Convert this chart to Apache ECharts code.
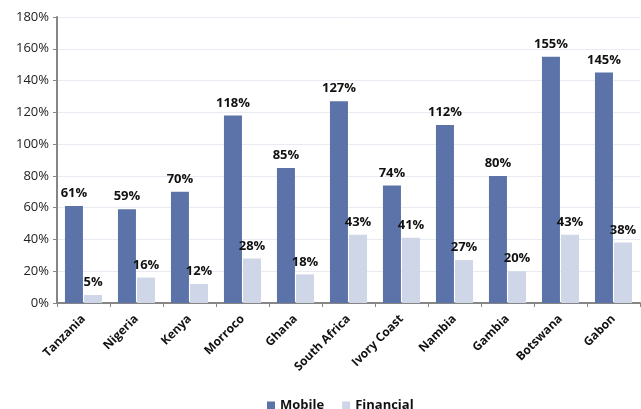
<!DOCTYPE html>
<html>
<head>
<meta charset="utf-8">
<script src="https://cdn.jsdelivr.net/npm/echarts@6/dist/echarts.min.js"></script>
<style>
  html, body { margin: 0; padding: 0; background: #fff; }
  #chart { width: 641px; height: 409px; }
</style>
</head>
<body>
<div id="chart"></div>
<script>
// Countries and penetration rates (percent)
const countries = ['Tanzania', 'Nigeria', 'Kenya', 'Morroco', 'Ghana', 'South Africa', 'Ivory Coast', 'Nambia', 'Gambia', 'Botswana', 'Gabon'];
const mobile = [61, 59, 70, 118, 85, 127, 74, 112, 80, 155, 145];
const financial = [5, 16, 12, 28, 18, 43, 41, 27, 20, 43, 38];
const yTicks = { min: 0, max: 180, step: 20 };

const font = '"Open Sans", "Noto Sans", sans-serif';

const chart = echarts.init(document.getElementById('chart'), null, { renderer: 'canvas' });

const labelStyle = {
  show: true,
  position: 'top',
  distance: 6,
  formatter: p => p.value + '%',
  fontFamily: font,
  fontWeight: 'bold',
  fontSize: 13,
  color: '#111'
};

chart.setOption({
  animation: false,
  textStyle: { fontFamily: font },
  grid: { left: 57, right: 1, top: 17, bottom: 106, containLabel: false },
  legend: {
    top: 394,
    left: 262,
    itemWidth: 8,
    itemHeight: 8,
    itemGap: 18,
    icon: 'rect',
    textStyle: { fontFamily: font, fontWeight: 'bold', fontSize: 13, color: '#111' },
    data: ['Mobile', 'Financial']
  },
  xAxis: {
    type: 'category',
    data: countries,
    axisLine: { lineStyle: { color: '#868686', width: 2 } },
    axisTick: { show: true, alignWithLabel: false, length: 4, lineStyle: { color: '#868686' } },
    axisLabel: {
      rotate: 45,
      interval: 0,
      margin: 14,
      fontFamily: font,
      fontWeight: 'bold',
      fontSize: 12,
      color: '#111'
    }
  },
  yAxis: {
    type: 'value',
    min: yTicks.min,
    max: yTicks.max,
    interval: yTicks.step,
    axisLine: { show: true, lineStyle: { color: '#868686', width: 2 } },
    axisTick: { show: true, length: 4, lineStyle: { color: '#868686' } },
    axisLabel: {
      formatter: v => v + '%',
      fontFamily: font,
      fontSize: 13,
      color: '#222',
      margin: 8
    },
    splitLine: { lineStyle: { color: '#e9ebf3', width: 1 } }
  },
  series: [
    {
      name: 'Mobile',
      type: 'bar',
      data: mobile,
      barWidth: 18,
      barGap: '6%',
      barCategoryGap: '30%',
      itemStyle: { color: '#5b73a8' },
      label: labelStyle
    },
    {
      name: 'Financial',
      type: 'bar',
      data: financial,
      barWidth: 18,
      itemStyle: { color: '#ced6e7' },
      label: labelStyle
    }
  ]
});
</script>
</body>
</html>
